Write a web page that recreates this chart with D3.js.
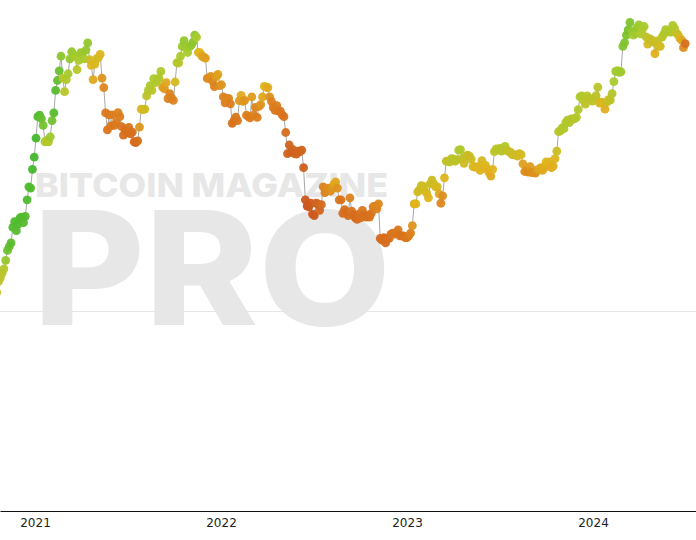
<!DOCTYPE html>
<html>
<head>
<meta charset="utf-8">
<script src="https://cdn.jsdelivr.net/npm/d3@7"></script>
<style>
  html, body { margin: 0; padding: 0; background: #fff; }
  svg { display: block; }
</style>
</head>
<body>
<svg id="chart" width="696" height="540"></svg>
<script>
// ---- DATA: BTC price (thousands USD), two readings per week (Sun, Wed-Thu),
// first reading = 2020-10-18, step = 3.5 days ----
const firstDate = "2020-10-18";
const price2020 = [11.4, 12.3, 12.6, 13.0, 13.4, 14.2, 15.2, 15.6, 16.0, 17.8, 18.5, 17.4,
  18.2, 19.0, 19.1, 18.4, 19.2, 21.5, 23.5, 23.3, 26.5, 28.8];
const price2021 = [
  32.8, 38.0, 38.4, 37.5, 35.8, 32.0, 32.3, 32.0, 33.1, 37.0,
  39.0, 45.5, 48.7, 52.0, 57.5, 49.5, 45.1, 49.0,
  51.0, 56.5, 59.3, 58.0, 57.5, 52.5, 55.9, 58.9,
  58.7, 56.5, 60.0, 63.0, 56.2, 54.0, 49.0, 54.5,
  56.6, 57.0, 58.2, 49.5, 46.4, 39.0, 34.7, 38.5, 35.7, 38.5,
  35.8, 36.5, 39.1, 38.0, 35.5, 33.5, 34.7, 34.0,
  35.3, 33.8, 34.2, 32.0, 31.8, 32.2, 35.4, 40.0,
  39.9, 40.0, 43.8, 45.5, 47.0, 45.5, 49.3, 48.0, 48.8, 49.5,
  51.8, 46.5, 46.0, 48.0, 43.0, 44.5, 43.2, 42.5,
  48.2, 55.0, 54.9, 57.5, 61.5, 64.0, 60.9, 59.0, 61.3, 62.0,
  63.3, 66.5, 65.5, 59.0, 58.9, 57.5, 57.2, 56.8,
  49.4, 49.5, 50.1, 48.5, 46.7, 50.0, 50.8, 47.0];
const price2022 = [
  47.3, 43.5, 41.8, 43.0, 43.1, 41.5, 36.3, 37.0, 37.9, 37.0,
  42.4, 44.0, 42.2, 42.5, 38.4, 38.0, 37.7, 43.5,
  38.4, 40.5, 37.8, 40.8, 41.3, 43.5, 46.8, 46.5,
  46.4, 43.5, 42.2, 40.5, 39.7, 41.0, 39.5, 39.5,
  38.5, 38.0, 34.1, 29.5, 31.3, 29.8, 30.3, 29.5, 29.4, 30.0,
  29.9, 30.2, 26.8, 21.5, 20.6, 20.5, 21.0, 19.5,
  19.3, 21.0, 20.9, 20.0, 20.8, 23.5, 22.6, 23.0, 23.3, 22.8,
  23.2, 23.9, 24.3, 23.3, 21.5, 21.5, 19.6, 20.1,
  19.8, 19.3, 21.8, 19.9, 19.4, 19.0, 18.8, 19.5,
  19.0, 20.0, 19.4, 19.1, 19.3, 19.1, 19.6, 20.5, 20.6, 20.2,
  20.9, 16.5, 16.3, 16.6, 16.0, 16.5, 16.5, 17.0,
  17.1, 17.0, 17.1, 17.5, 16.8, 16.8, 16.8, 16.6];
const price2023 = [
  16.6, 16.8, 17.1, 18.0, 20.9, 20.9, 22.7, 23.0, 23.7, 23.6,
  22.9, 22.5, 21.8, 24.0, 24.6, 24.0, 23.5, 23.5,
  22.4, 21.0, 22.1, 25.0, 28.0, 28.0, 27.9, 28.5,
  28.4, 28.0, 28.3, 30.2, 30.3, 28.5, 27.6, 29.0, 29.2, 29.0,
  28.4, 27.0, 26.9, 27.0, 26.8, 26.3, 28.1, 27.0,
  27.2, 26.5, 25.9, 25.3, 26.5, 29.9, 30.5, 30.3,
  30.6, 30.0, 30.2, 31.0, 30.2, 29.9, 29.8, 29.3, 29.3, 29.2,
  29.0, 29.5, 29.3, 27.5, 26.1, 26.2, 26.0, 27.0,
  25.9, 25.9, 25.8, 26.4, 26.5, 26.8, 26.3, 26.8,
  27.9, 27.6, 27.9, 26.8, 27.1, 28.5, 30.0, 34.3, 34.5, 35.2,
  35.0, 36.5, 37.1, 36.5, 37.4, 37.3, 37.5, 37.8,
  39.9, 43.5, 43.8, 42.5, 41.4, 43.8, 43.0, 43.0, 42.3, 43.0];
const price2024 = [
  43.9, 46.5, 41.7, 42.0, 41.6, 40.0, 42.0, 42.7,
  42.6, 44.5, 48.3, 51.8, 52.1, 51.5, 51.7, 61.5,
  63.1, 66.5, 68.9, 72.5, 68.4, 66.5, 67.2, 70.0, 71.3, 67.0,
  69.4, 70.5, 65.7, 62.5, 64.9, 64.3, 63.4, 58.5,
  63.9, 61.5, 61.5, 65.5, 66.9, 69.0, 68.5, 68.0,
  67.8, 71.0, 69.6, 67.5, 66.6, 65.0, 64.2, 61.0, 62.7];

// colour score per reading (0 = red-orange, 0.5 = yellow, 1 = green)
const score2020 = [0.62, 0.64, 0.66, 0.68, 0.7, 0.8, 0.9, 0.92, 0.95, 0.97, 0.98, 0.95,
  0.97, 0.97, 0.97, 0.96, 0.96, 0.98, 0.98, 0.97, 1.0, 1.0];
const score2021 = [
  1.0, 0.98, 0.95, 0.92, 0.88, 0.75, 0.72, 0.7, 0.78, 0.88,
  0.95, 0.95, 0.92, 0.9, 0.82, 0.7, 0.68, 0.72,
  0.76, 0.8, 0.8, 0.78, 0.76, 0.68, 0.74, 0.78,
  0.78, 0.76, 0.8, 0.8, 0.6, 0.52, 0.45, 0.52,
  0.55, 0.55, 0.52, 0.38, 0.32, 0.26, 0.24, 0.26, 0.26, 0.28,
  0.25, 0.27, 0.3, 0.28, 0.24, 0.22, 0.22, 0.22,
  0.24, 0.22, 0.22, 0.2, 0.18, 0.22, 0.38, 0.52,
  0.55, 0.58, 0.66, 0.7, 0.72, 0.68, 0.75, 0.72, 0.72, 0.72,
  0.72, 0.42, 0.4, 0.45, 0.3, 0.32, 0.3, 0.3,
  0.55, 0.68, 0.7, 0.74, 0.78, 0.8, 0.78, 0.74, 0.78, 0.8,
  0.82, 0.82, 0.75, 0.55, 0.5, 0.46, 0.42, 0.42,
  0.32, 0.34, 0.36, 0.32, 0.3, 0.4, 0.42, 0.34];
const score2022 = [
  0.38, 0.3, 0.28, 0.32, 0.32, 0.28, 0.22, 0.24, 0.26, 0.26,
  0.4, 0.46, 0.4, 0.38, 0.3, 0.28, 0.28, 0.4,
  0.3, 0.32, 0.28, 0.33, 0.38, 0.45, 0.52, 0.5,
  0.46, 0.36, 0.3, 0.27, 0.26, 0.28, 0.26, 0.25,
  0.25, 0.23, 0.2, 0.14, 0.15, 0.14, 0.15, 0.14, 0.15, 0.16,
  0.16, 0.16, 0.12, 0.08, 0.06, 0.07, 0.1, 0.08,
  0.1, 0.14, 0.15, 0.16, 0.2, 0.3, 0.3, 0.33, 0.35, 0.34,
  0.38, 0.42, 0.45, 0.36, 0.26, 0.24, 0.2, 0.22,
  0.2, 0.2, 0.3, 0.24, 0.2, 0.19, 0.2, 0.22,
  0.22, 0.25, 0.22, 0.22, 0.22, 0.22, 0.24, 0.28, 0.3, 0.3,
  0.32, 0.18, 0.2, 0.2, 0.19, 0.2, 0.22, 0.24,
  0.25, 0.25, 0.25, 0.26, 0.24, 0.24, 0.24, 0.24];
const score2023 = [
  0.25, 0.27, 0.3, 0.38, 0.48, 0.5, 0.56, 0.58, 0.6, 0.6,
  0.55, 0.54, 0.5, 0.58, 0.6, 0.58, 0.55, 0.54,
  0.45, 0.32, 0.35, 0.5, 0.62, 0.64, 0.66, 0.68,
  0.68, 0.66, 0.68, 0.72, 0.72, 0.64, 0.58, 0.62, 0.62, 0.6,
  0.58, 0.54, 0.52, 0.52, 0.52, 0.5, 0.55, 0.52,
  0.52, 0.5, 0.48, 0.46, 0.5, 0.65, 0.68, 0.68,
  0.7, 0.68, 0.68, 0.7, 0.64, 0.62, 0.62, 0.6, 0.6, 0.58,
  0.56, 0.58, 0.55, 0.42, 0.35, 0.35, 0.33, 0.4,
  0.35, 0.35, 0.36, 0.4, 0.45, 0.46, 0.45, 0.46,
  0.5, 0.5, 0.5, 0.46, 0.48, 0.52, 0.6, 0.68, 0.7, 0.72,
  0.72, 0.72, 0.72, 0.7, 0.7, 0.7, 0.7, 0.7,
  0.72, 0.74, 0.72, 0.68, 0.66, 0.68, 0.68, 0.67, 0.66, 0.66];
const score2024 = [
  0.66, 0.68, 0.56, 0.55, 0.5, 0.48, 0.6, 0.62,
  0.65, 0.7, 0.75, 0.78, 0.76, 0.76, 0.78, 0.84,
  0.85, 0.86, 0.88, 0.85, 0.8, 0.74, 0.78, 0.8, 0.78, 0.72,
  0.72, 0.74, 0.66, 0.55, 0.65, 0.62, 0.6, 0.48,
  0.62, 0.58, 0.56, 0.68, 0.7, 0.74, 0.72, 0.72,
  0.72, 0.74, 0.7, 0.66, 0.6, 0.55, 0.45, 0.35, 0.22];

const yearTicks = ["2021-01-01", "2022-01-01", "2023-01-01", "2024-01-01"];
const yearLabels = ["2021", "2022", "2023", "2024"];
const gridValues = [10000];

// ---- BUILD ----
const W = 696, H = 540, axisY = 511;
const prices = [].concat(price2020, price2021, price2022, price2023, price2024);
const scores = [].concat(score2020, score2021, score2022, score2023, score2024);
const n = Math.min(prices.length, scores.length);
const parse = d3.utcParse("%Y-%m-%d");
const start = parse(firstDate);
const data = d3.range(n).map(i => ({
  date: d3.utcHour.offset(start, 84 * i),
  price: prices[i] * 1000,
  score: scores[i]
}));

const svg = d3.select("#chart");

// x: 2021-01-01 -> 35px, 2024-01-01 -> 593px, extended to full width
const xBase = d3.scaleUtc().domain([parse(yearTicks[0]), parse(yearTicks[3])]).range([35, 593]);
const x = d3.scaleUtc().domain([xBase.invert(0), xBase.invert(W)]).range([0, W]);
// y: log scale, 10k at 311.5px, 336 px per decade
const y = d3.scaleLog().domain([1000, 100000]).range([311.5 + 336, 311.5 - 336]);

const color = d3.scaleLinear()
  .domain([0, 0.25, 0.5, 0.75, 1])
  .range(["#c4481c", "#da761e", "#e0b41e", "#a9cb2d", "#45b82e"])
  .interpolate(d3.interpolateRgb);

svg.append("defs").append("clipPath").attr("id", "plot")
  .append("rect").attr("x", 0).attr("y", 0).attr("width", W).attr("height", axisY);

// watermark
const wm = svg.append("g").attr("fill", "#e7e7e7").style("font-family", "Inter, 'Open Sans', sans-serif");
wm.append("text").attr("x", 35).attr("y", 196.5)
  .attr("font-size", 33).attr("font-weight", 800)
  .attr("textLength", 353).attr("lengthAdjust", "spacingAndGlyphs")
  .text("BITCOIN MAGAZINE");
wm.append("text").attr("x", 378).attr("y", 215)
  .attr("font-size", 9).attr("font-weight", 400).text("®");
wm.append("text").attr("x", 33).attr("y", 325)
  .attr("font-size", 158).attr("font-weight", 800)
  .attr("textLength", 358).attr("lengthAdjust", "spacingAndGlyphs")
  .text("PRO");

// grid
svg.append("g").selectAll("line").data(gridValues).join("line")
  .attr("x1", 0).attr("x2", W)
  .attr("y1", d => y(d)).attr("y2", d => y(d))
  .attr("stroke", "#e6e6e6").attr("stroke-width", 1);

const plot = svg.append("g").attr("clip-path", "url(#plot)");

plot.append("path").datum(data)
  .attr("fill", "none").attr("stroke", "#a8a8a8").attr("stroke-width", 1)
  .attr("d", d3.line().x(d => x(d.date)).y(d => y(d.price)));

plot.append("g").selectAll("circle").data(data).join("circle")
  .attr("cx", d => x(d.date)).attr("cy", d => y(d.price))
  .attr("r", 4.4)
  .attr("fill", d => color(d.score))
  .attr("fill-opacity", 0.95);

// x axis
const xAxis = d3.axisBottom(x)
  .tickValues(yearTicks.map(parse))
  .tickFormat((d, i) => yearLabels[i])
  .tickSize(0).tickSizeOuter(0).tickPadding(7);
const gx = svg.append("g").attr("transform", `translate(0,${axisY})`).call(xAxis);
gx.select(".domain").attr("stroke", "#111").attr("stroke-width", 1.2);
gx.selectAll("text").attr("fill", "#222")
  .style("font-family", "'DejaVu Sans', sans-serif").style("font-size", "12px");
</script>
</body>
</html>
